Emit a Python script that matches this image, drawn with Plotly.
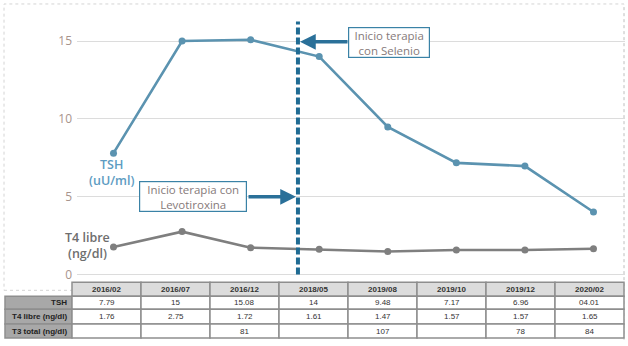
import plotly.graph_objects as go

W, H = 628, 346

dates = ["2016/02", "2016/07", "2016/12", "2018/05", "2019/08", "2019/10", "2019/12", "2020/02"]
tsh = [7.79, 15, 15.08, 14, 9.48, 7.17, 6.96, 4.01]
t4 = [1.76, 2.75, 1.72, 1.61, 1.47, 1.57, 1.57, 1.65]
tsh_txt = ["7.79", "15", "15.08", "14", "9.48", "7.17", "6.96", "04.01"]
t4_txt = ["1.76", "2.75", "1.72", "1.61", "1.47", "1.57", "1.57", "1.65"]
t3_txt = ["", "", "81", "", "107", "", "78", "84"]
row_names = ["TSH", "T4 libre (ng/dl)", "T3 total (ng/dl)"]
y_ticks = [0, 5, 10, 15]
selenio_x = 2.69

TSH_C = "#5b93b0"
T4_C = "#7f7f7f"
DARK = "#1f6b93"


def px(x):
    return x / W


def py(y):
    return 1 - y / H


fig = go.Figure()
xi = list(range(len(dates)))
fig.add_trace(go.Scatter(x=xi, y=tsh, mode="lines+markers",
                         line=dict(color=TSH_C, width=2.6),
                         marker=dict(size=7, color=TSH_C), hoverinfo="skip"))
fig.add_trace(go.Scatter(x=xi, y=t4, mode="lines+markers",
                         line=dict(color=T4_C, width=2.6),
                         marker=dict(size=7, color=T4_C), hoverinfo="skip"))

shapes = []
annots = []

# outer dotted frame
shapes.append(dict(type="rect", xref="paper", yref="paper", x0=px(4), x1=px(624),
                   y0=py(292), y1=py(4), line=dict(color="#d4d4d4", width=1, dash="dot"),
                   layer="below"))
shapes.append(dict(type="line", xref="paper", yref="paper", x0=px(624), x1=px(624),
                   y0=py(342), y1=py(4), line=dict(color="#d4d4d4", width=1, dash="dot")))

# vertical dashed line (therapy start)
shapes.append(dict(type="line", xref="x", yref="y", x0=selenio_x, x1=selenio_x,
                   y0=0, y1=16.25, line=dict(color=DARK, width=4, dash="7px,3px")))

# ---- table ----
col_l = 72
col_w = 69
tx0 = 5
rows_y = [284, 298, 311, 326, 340]
grid = "#8e8e8e"
for i, d in enumerate(dates):
    x0 = col_l + i * col_w
    shapes.append(dict(type="rect", xref="paper", yref="paper", x0=px(x0), x1=px(x0 + col_w),
                       y0=py(rows_y[1]), y1=py(rows_y[0]), fillcolor="#dcdcdc",
                       line=dict(color=grid, width=1.5)))
    annots.append(dict(xref="paper", yref="paper", x=px(x0 + col_w / 2), y=py((rows_y[0] + rows_y[1]) / 2),
                       text="<b>%s</b>" % d, showarrow=False, xanchor="center", yanchor="middle",
                       font=dict(size=8, color="#333333", family="Liberation Sans")))
row_vals = [tsh_txt, t4_txt, t3_txt]
for r, name in enumerate(row_names):
    ya, yb = rows_y[r + 1], rows_y[r + 2]
    shapes.append(dict(type="rect", xref="paper", yref="paper", x0=px(tx0), x1=px(col_l),
                       y0=py(yb), y1=py(ya), fillcolor="#a8a8a8",
                       line=dict(color=grid, width=1.5)))
    annots.append(dict(xref="paper", yref="paper", x=px(col_l - 3), y=py((ya + yb) / 2),
                       text="<b>%s</b>" % name, showarrow=False, xanchor="right", yanchor="middle",
                       font=dict(size=8, color="#222222", family="Liberation Sans")))
    for i, v in enumerate(row_vals[r]):
        x0 = col_l + i * col_w
        shapes.append(dict(type="rect", xref="paper", yref="paper", x0=px(x0), x1=px(x0 + col_w),
                           y0=py(yb), y1=py(ya), fillcolor="white",
                           line=dict(color=grid, width=1.5)))
        if v:
            annots.append(dict(xref="paper", yref="paper", x=px(x0 + col_w / 2), y=py((ya + yb) / 2),
                               text=v, showarrow=False, xanchor="center", yanchor="middle",
                               font=dict(size=8, color="#333333", family="Liberation Sans")))

# series labels
annots.append(dict(xref="paper", yref="paper", x=px(112), y=py(174), text="TSH<br>(uU/ml)",
                   showarrow=False, xanchor="center", yanchor="middle", borderpad=0,
                   font=dict(size=12.5, color="#5d9cc2", family="Open Sans", weight=600)))
annots.append(dict(xref="paper", yref="paper", x=px(87), y=py(247), text="T4 libre<br>(ng/dl)",
                   showarrow=False, xanchor="center", yanchor="middle", borderpad=0,
                   font=dict(size=12.5, color="#6e6e6e", family="Open Sans", weight=600)))

# arrows
annots.append(dict(xref="paper", yref="paper", x=px(296), y=py(198), ax=-49, ay=0,
                   text="", showarrow=True, arrowhead=2,
                   arrowwidth=3.5, arrowsize=0.9, arrowcolor="#2a7099"))
annots.append(dict(xref="paper", yref="paper", x=px(300), y=py(42), ax=49, ay=0,
                   text="", showarrow=True, arrowhead=2,
                   arrowwidth=3.5, arrowsize=0.9, arrowcolor="#2a7099"))

# text boxes
annots.append(dict(xref="paper", yref="paper", x=px(193), y=py(197.5),
                   text="Inicio terapia con<br>Levotiroxina", showarrow=False,
                   xanchor="center", yanchor="middle", width=104, height=27, align="center",
                   bgcolor="white", bordercolor="#3a82a6", borderwidth=1.2, borderpad=1,
                   font=dict(size=11.5, color="#867a7a", family="Open Sans")))
annots.append(dict(xref="paper", yref="paper", x=px(389.5), y=py(42.5),
                   text="Inicio terapia<br>con Selenio", showarrow=False,
                   xanchor="center", yanchor="middle", width=78, height=27, align="center",
                   bgcolor="white", bordercolor="#3a82a6", borderwidth=1.2, borderpad=1,
                   font=dict(size=11.5, color="#867a7a", family="Open Sans")))

x_left, x_right = 77, 625
x0p, step = 113.5, 68.57
y0p, ppu = 276, 15.65
fig.update_layout(
    width=W, height=H, margin=dict(l=0, r=0, t=0, b=0),
    paper_bgcolor="white", plot_bgcolor="white", showlegend=False,
    xaxis=dict(domain=[px(x_left), px(x_right)], range=[(x_left - x0p) / step, (x_right - x0p) / step],
               showticklabels=False, showgrid=False, zeroline=False, showline=False, fixedrange=True),
    yaxis=dict(domain=[py(282), py(10)], range=[-(282 - y0p) / ppu, (y0p - 10) / ppu],
               tickvals=y_ticks, ticktext=[str(v) for v in y_ticks],
               showgrid=True, gridcolor="#dcdcdc", gridwidth=1, zeroline=False, showline=False,
               tickfont=dict(size=12, color="#a8948c", family="Open Sans"), ticklabelstandoff=4,
               fixedrange=True),
    shapes=shapes, annotations=annots,
)
fig.write_html("out.html")
